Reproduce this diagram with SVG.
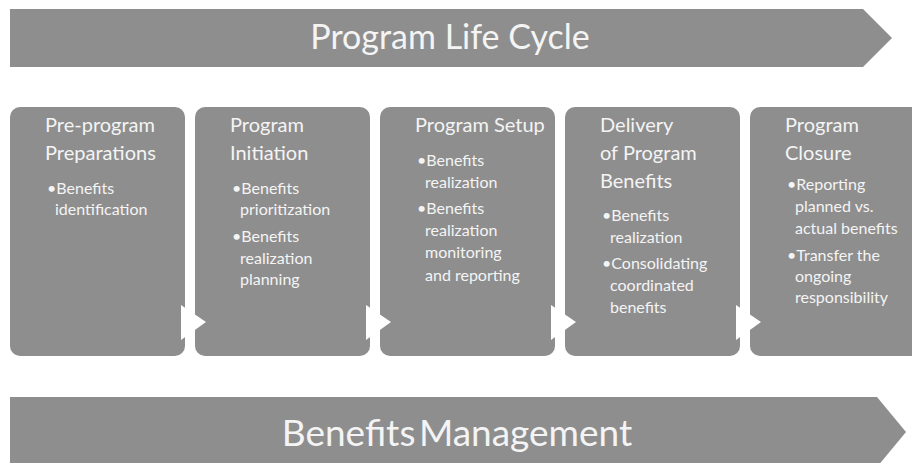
<svg xmlns="http://www.w3.org/2000/svg" width="912" height="463" viewBox="0 0 912 463">
  <style>
    .band { fill: #8e8e8e; }
    .box { fill: #8e8e8e; }
    .tri { fill: #ffffff; }
    text { font-family: Lato, "Liberation Sans", sans-serif; fill: #f4f4f4; }
    .banner { font-size: 34px; }
    .banner2 { font-size: 37px; word-spacing: -6px; }
    .head { font-size: 20px; }
    .item { font-size: 16px; }
  </style>
  <rect width="912" height="463" fill="#ffffff"/>

  <!-- top chevron band -->
  <g id="life-cycle">
    <polygon class="band" points="10,9 863,9 892,38 863,67 10,67"/>
    <text class="banner" x="450" y="49" text-anchor="middle">Program Life Cycle</text>
  </g>

  <!-- phase boxes -->
  <g id="pre-program">
    <rect class="box" x="10" y="107" width="175" height="249" rx="10"/>
    <text class="head" x="45" y="132">Pre-program</text>
    <text class="head" x="45" y="160">Preparations</text>
    <text class="item" x="47" y="194">•Benefits</text>
    <text class="item" x="55" y="215">identification</text>
  </g>
  <g id="initiation">
    <rect class="box" x="195" y="107" width="175" height="249" rx="10"/>
    <text class="head" x="230" y="132">Program</text>
    <text class="head" x="230" y="160">Initiation</text>
    <text class="item" x="232" y="194">•Benefits</text>
    <text class="item" x="240" y="215">prioritization</text>
    <text class="item" x="232" y="242">•Benefits</text>
    <text class="item" x="240" y="264">realization</text>
    <text class="item" x="240" y="285">planning</text>
  </g>
  <g id="setup">
    <rect class="box" x="380" y="107" width="175" height="249" rx="10"/>
    <text class="head" x="415" y="132">Program Setup</text>
    <text class="item" x="417" y="166">•Benefits</text>
    <text class="item" x="425" y="188">realization</text>
    <text class="item" x="417" y="214">•Benefits</text>
    <text class="item" x="425" y="236">realization</text>
    <text class="item" x="425" y="258">monitoring</text>
    <text class="item" x="425" y="281">and reporting</text>
  </g>
  <g id="delivery">
    <rect class="box" x="565" y="107" width="175" height="249" rx="10"/>
    <text class="head" x="600" y="132">Delivery</text>
    <text class="head" x="600" y="160">of Program</text>
    <text class="head" x="600" y="188">Benefits</text>
    <text class="item" x="602" y="221">•Benefits</text>
    <text class="item" x="610" y="243">realization</text>
    <text class="item" x="602" y="269">•Consolidating</text>
    <text class="item" x="610" y="291">coordinated</text>
    <text class="item" x="610" y="313">benefits</text>
  </g>
  <g id="closure">
    <rect class="box" x="750" y="107" width="175" height="249" rx="10"/>
    <text class="head" x="785" y="132">Program</text>
    <text class="head" x="785" y="160">Closure</text>
    <text class="item" x="787" y="190">•Reporting</text>
    <text class="item" x="795" y="212">planned vs.</text>
    <text class="item" x="795" y="234">actual benefits</text>
    <text class="item" x="787" y="261">•Transfer the</text>
    <text class="item" x="795" y="282">ongoing</text>
    <text class="item" x="795" y="303">responsibility</text>
  </g>

  <!-- step arrows between phases -->
  <g id="connectors">
    <polygon class="tri" points="181,305 206,322 181,340"/>
    <polygon class="tri" points="366,305 391,322 366,340"/>
    <polygon class="tri" points="551,305 576,322 551,340"/>
    <polygon class="tri" points="736,305 761,322 736,340"/>
  </g>

  <!-- bottom chevron band -->
  <g id="benefits-management">
    <polygon class="band" points="10,397 877,397 906,432 877,467 10,467"/>
    <text class="banner2" x="457" y="446" text-anchor="middle">Benefits Management</text>
  </g>
</svg>
